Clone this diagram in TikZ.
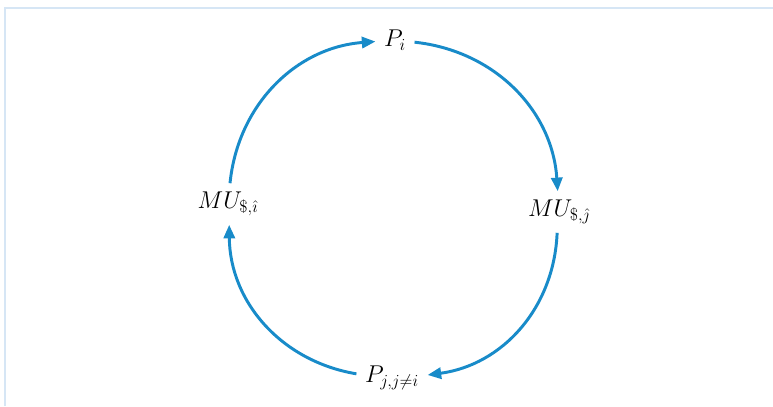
\documentclass[tikz,border=0pt]{standalone}
\usetikzlibrary{arrows.meta}
\definecolor{cyclecol}{RGB}{24,139,201}
\definecolor{framecol}{RGB}{214,230,245}
\begin{document}
\begin{tikzpicture}[>={Triangle[length=3.4mm,width=2.8mm]},
  lbl/.style={inner sep=6pt, font=\LARGE},
  arr/.style={->, draw=cyclecol, line width=2.1pt, bend left=40}]
\useasboundingbox (0,0) rectangle (19.325,10.15);
\draw[framecol, line width=1.5pt] (0.125,0) |- (19.325,9.95);
\node[lbl] (pi) at (9.875,9.15) {$P_i$};
\node[lbl] (muj) at (13.975,4.85) {$MU_{\$,\hat{\jmath}}$};
\node[lbl] (pj) at (9.8,0.7) {$P_{j,j\neq i}$};
\node[lbl] (mui) at (5.7,5.05) {$MU_{\$,\hat{\imath}}$};
\draw[arr] (mui) to (pi);
\draw[arr] (pi) to (muj);
\draw[arr] (muj) to (pj);
\draw[arr] (pj) to (mui);
\end{tikzpicture}
\end{document}
